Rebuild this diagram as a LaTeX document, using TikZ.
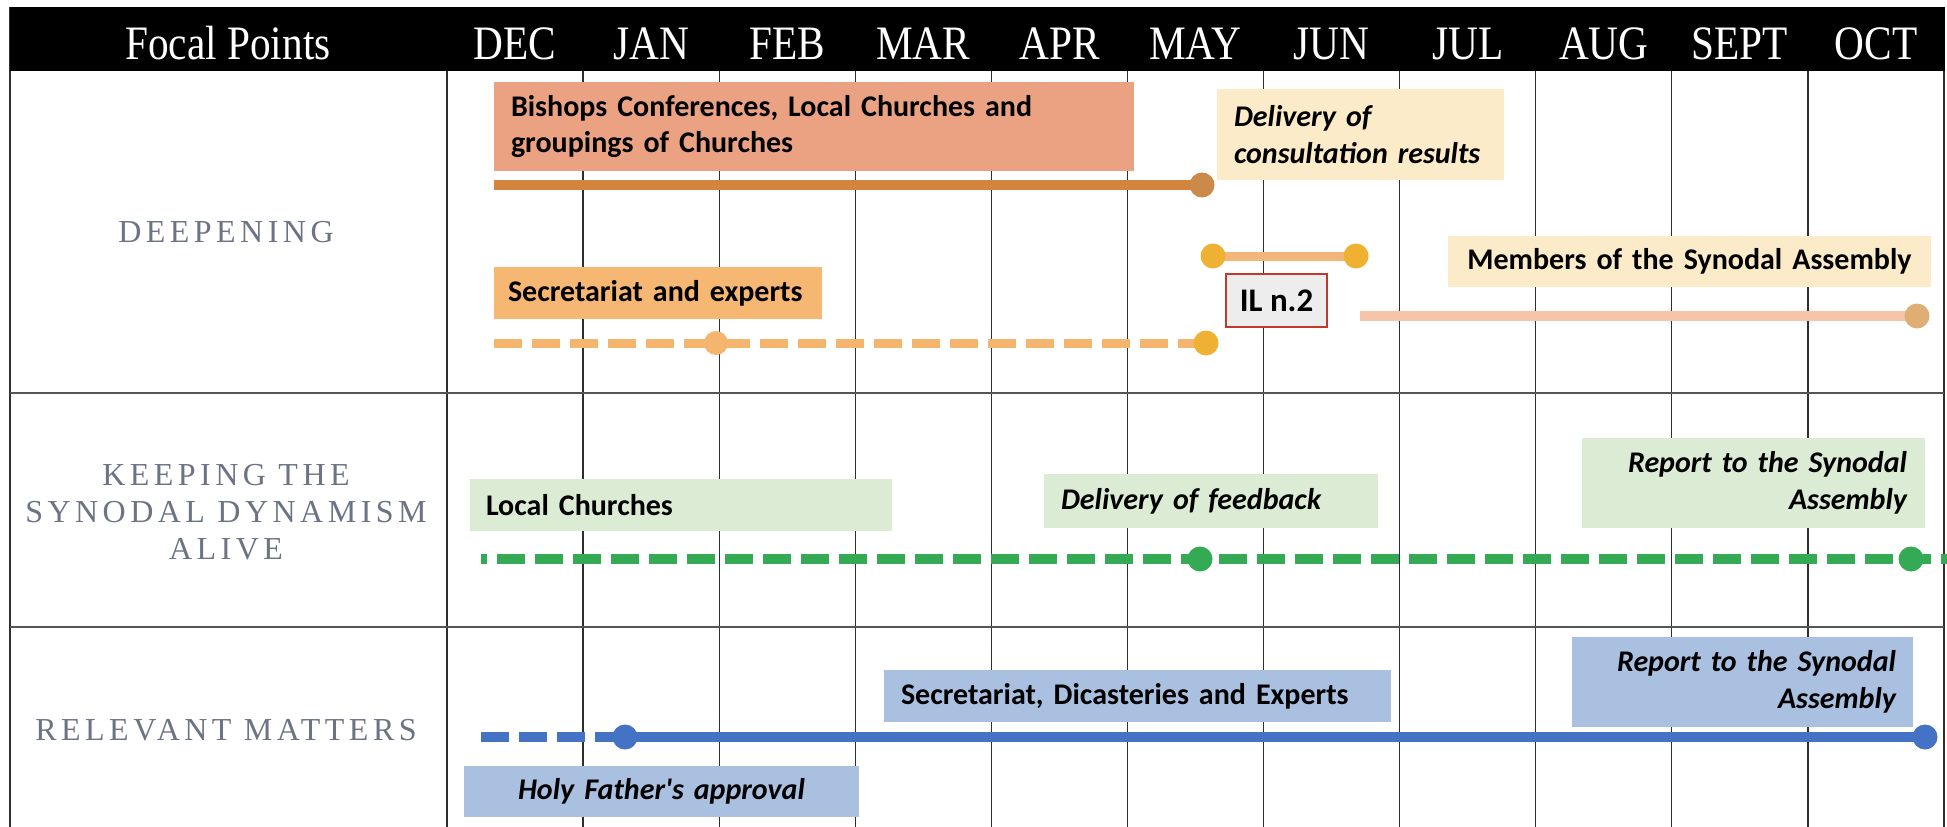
\documentclass[tikz,border=0pt]{standalone}
\usepackage{fontspec}
\setmainfont{Liberation Serif}
\newfontfamily\headfont[FakeStretch=0.86]{Liberation Serif}
\newfontfamily\rowfont[LetterSpace=14]{Liberation Serif}
\newfontfamily\boxfont{Carlito}

\definecolor{gridline}{HTML}{2E2E2E}
\definecolor{rowrule}{HTML}{555555}
\definecolor{rowtext}{HTML}{6B7384}
\definecolor{bishopsfill}{HTML}{EAA283}
\definecolor{creamfill}{HTML}{FBEBC8}
\definecolor{secfill}{HTML}{F5B771}
\definecolor{ilfill}{HTML}{EDEDED}
\definecolor{ilborder}{HTML}{C0392B}
\definecolor{greenfill}{HTML}{DBEBD4}
\definecolor{bluefill}{HTML}{A9C0E0}
\definecolor{brownline}{HTML}{D4843C}
\definecolor{browndot}{HTML}{CB8A4A}
\definecolor{peachline}{HTML}{F3B57A}
\definecolor{golddot}{HTML}{EEB134}
\definecolor{secline}{HTML}{F4B66F}
\definecolor{pinkline}{HTML}{F5C5AA}
\definecolor{tandot}{HTML}{DFAE74}
\definecolor{greenline}{HTML}{34AA55}
\definecolor{blueline}{HTML}{4472C4}

\begin{document}
\begin{tikzpicture}[x=1pt,y=-1pt,
  dot/.style={circle,fill=#1,draw=none,inner sep=0pt,minimum size=25pt},
  bar/.style={line width=10pt,draw=#1,line cap=butt},
  dashbar/.style={line width=9pt,draw=#1,line cap=butt,dash pattern=on 28pt off 10pt},
  headtext/.style={anchor=base,inner sep=0pt,text=white,font=\headfont\fontsize{48}{50}\selectfont},
  rowlabel/.style={inner sep=0pt,align=center,text=rowtext,font=\rowfont\fontsize{32}{37}\selectfont},
  box/.style={inner xsep=17pt,inner ysep=0pt,text=black,
    font=\boxfont\bfseries\fontsize{30}{36.5}\selectfont},
  ibox/.style={box,font=\boxfont\bfseries\itshape\fontsize{30}{36.5}\selectfont},
]
\useasboundingbox (0,0) rectangle (1947,827);
\fill[white] (0,0) rectangle (1947,827);

% month grid
\foreach \k in {0,...,11}
  \draw[gridline,line width=1.3pt] ({447+136.09*\k},71) -- ({447+136.09*\k},827);
\draw[gridline,line width=1.3pt] (10,7) -- (10,827);
% row separators
\draw[rowrule,line width=2.2pt] (10,393) -- (1944,393);
\draw[rowrule,line width=2.2pt] (10,627) -- (1944,627);

% header band
\fill[black] (9.5,7) rectangle (1945,71);
\node[headtext] (hfocal) at (228,59) {Focal Points};
\foreach \m [count=\i from 0] in {DEC,JAN,FEB,MAR,APR,MAY,JUN,JUL,AUG,SEPT,OCT}
  \node[headtext] (m\i) at ({447+136.09*(\i+0.5)},59) {\m};

% focal point labels
\node[rowlabel] (deep) at (226,232.5) {DEEPENING};
\node[rowlabel] (keep) at (226,512) {KEEPING THE\\SYNODAL DYNAMISM\\ALIVE};
\node[rowlabel] (rel) at (226,730) {RELEVANT MATTERS};

% ---- Deepening ----
\node[box,fill=bishopsfill,minimum height=89pt,text width=606pt,align=left]
  (bishops) at (814,126.5) {Bishops Conferences, Local Churches and\\groupings of Churches};
\node[ibox,fill=creamfill,minimum height=91pt,text width=253pt,align=left]
  (delivcons) at (1360.5,134.5) {Delivery of\\consultation results};
\node[box,fill=secfill,minimum height=52pt,text width=300pt,inner xsep=14pt,align=left]
  (secexp) at (658,293) {\mbox{Secretariat and experts}};
\node[box,fill=creamfill,minimum height=51pt,text width=449pt,align=center]
  (members) at (1689.5,261.5) {Members of the Synodal Assembly};

\coordinate (bstart) at (494,185);
\coordinate (bend) at (1202,185);
\draw[bar=brownline] (bstart) -- (bend);
\node[dot=browndot] (benddot) at (bend) {};

\coordinate (ilstart) at (1213,256);
\coordinate (ilend) at (1356,256);
\draw[bar=peachline,line width=9pt] (ilstart) -- (ilend);
\node[dot=golddot] (ilstartdot) at (ilstart) {};
\node[dot=golddot] (ilenddot) at (ilend) {};

\coordinate (sstart) at (494,343);
\coordinate (smid) at (716,343);
\coordinate (send) at (1206,343);
\draw[dashbar=secline] (sstart) -- (send);
\node[dot=secline,minimum size=24pt] (smiddot) at (smid) {};
\node[dot=golddot] (senddot) at (send) {};

\node[box,draw=ilborder,line width=1.5pt,fill=ilfill,minimum height=53pt,
  minimum width=101pt,inner xsep=0pt,align=center,
  font=\boxfont\bfseries\fontsize{33}{36}\selectfont] (il) at (1276.5,300.5) {IL n.2};

\coordinate (mstart) at (1360,316);
\coordinate (mend) at (1917,316);
\draw[bar=pinkline] (mstart) -- (mend);
\node[dot=tandot] (menddot) at (mend) {};

% ---- Keeping the synodal dynamism alive ----
\node[box,fill=greenfill,minimum height=52pt,text width=390pt,inner xsep=16pt,align=left]
  (localch) at (681,505) {Local Churches};
\node[ibox,fill=greenfill,minimum height=54pt,text width=300pt,align=left]
  (delivfeed) at (1211,501) {Delivery of feedback};
\node[ibox,fill=greenfill,minimum height=90pt,text width=307pt,inner xsep=18pt,align=right]
  (reportg) at (1753.5,483) {Report to the Synodal\\Assembly};

\coordinate (gstart) at (481,559);
\coordinate (gmid) at (1200,559);
\coordinate (gdot) at (1911,559);
\coordinate (gend) at (1947,559);
\draw[dashbar=greenline,line width=10pt,dash phase=22pt] (gstart) -- (gend);
\node[dot=greenline] (gmiddot) at (gmid) {};
\node[dot=greenline] (gdotend) at (gdot) {};

% ---- Relevant matters ----
\node[box,fill=bluefill,minimum height=52pt,text width=473pt,align=left]
  (secdic) at (1137.5,696) {Secretariat, Dicasteries and Experts};
\node[ibox,fill=bluefill,minimum height=90pt,text width=307pt,align=right]
  (reportb) at (1742.5,682) {Report to the Synodal\\Assembly};
\node[ibox,fill=bluefill,minimum height=51pt,text width=361pt,align=center]
  (holy) at (661.5,791.5) {Holy Father's approval};

\coordinate (rstart) at (481,737);
\coordinate (rmid) at (625,737);
\coordinate (rend) at (1925,737);
\draw[dashbar=blueline,line width=10pt] (rstart) -- (rmid);
\draw[bar=blueline] (rmid) -- (rend);
\node[dot=blueline] (rmiddot) at (rmid) {};
\node[dot=blueline] (renddot) at (rend) {};
\end{tikzpicture}
\end{document}
